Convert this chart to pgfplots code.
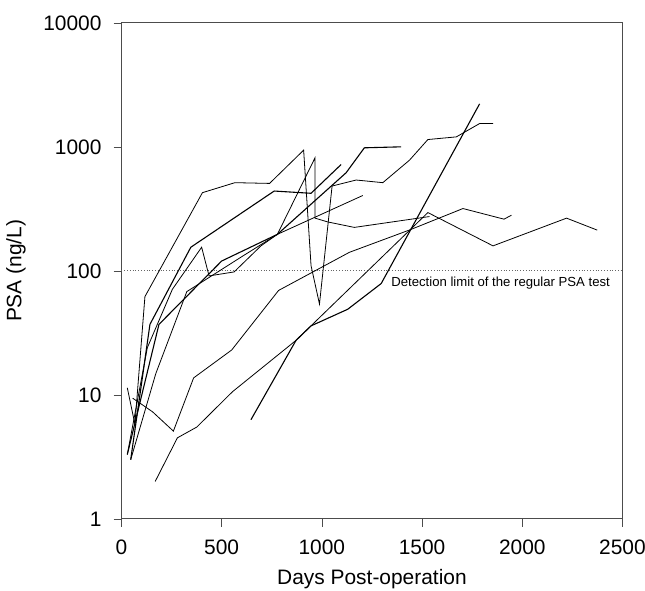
\documentclass[border=0pt]{standalone}
\usepackage{pgfplots}
\pgfplotsset{compat=1.18}
\usepackage{fontspec}
\setmainfont{Liberation Sans}

\begin{document}
\begin{tikzpicture}
\begin{axis}[
  scale only axis, width=251.5pt, height=249pt,
  xmin=0, xmax=2500, ymin=1, ymax=10000, ymode=log,
  xtick={0,500,...,2500}, ytick={1,10,100,1000,10000},
  yticklabels={1,10,100,1000,10000}, yminorticks=false,
  tick align=outside, xtick pos=left, ytick pos=left,
  major tick length=4pt,
  /pgf/number format/assume math mode=true,
  /pgf/number format/1000 sep={},
  tick label style={font=\fontsize{10.5}{12}\selectfont},
  xticklabel style={yshift=-3pt},
  yticklabel style={xshift=-2.5pt},
  label style={font=\fontsize{10.5}{12}\selectfont},
  xlabel={Days Post-operation}, ylabel={PSA (ng/L)},
  xlabel style={yshift=-0.5pt},
  ylabel style={yshift=2pt},
  cycle list={{black, line width=0.55pt, mark=none}},
  axis line style={line width=0.5pt, black!70},
  tick style={black!70},
  clip=false]
\addplot[densely dotted, thin, black!60, forget plot] coordinates {(0,100) (2500,100)};
% patients
\addplot coordinates {(29,11.4) (67,5.8) (117,62) (404,427) (566,514) (739,507) (909,940) (946,110) (988,54) (1051,483) (1171,540) (1304,514) (1437,780) (1529,1145) (1671,1203) (1787,1540) (1854,1540)};
\addplot coordinates {(46,3.0) (142,37) (346,155) (762,440) (946,422) (1096,720)};
\addplot coordinates {(56,9.4) (155,7.3) (259,5.1) (360,13.7) (550,23) (784,69.5) (1137,141) (1439,214) (1704,318) (1909,261) (1946,281)};
\addplot coordinates {(168,2.0) (279,4.5) (376,5.5) (554,10.6) (713,17.1) (871,27.5) (1529,295) (1854,159) (2221,266) (2374,213)};
\addplot coordinates {(646,6.3) (871,27.5) (946,36) (1129,49) (1296,79) (1787,2220)};
\addplot coordinates {(29,3.3) (129,24) (254,71) (400,155) (437,91) (562,98) (696,159) (778,197) (966,817) (966,266) (1029,248) (1162,224) (1537,274)};
\addplot coordinates {(46,3.0) (171,14.8) (326,68) (600,130) (778,197) (1104,342) (1204,405)};
\addplot coordinates {(29,3.3) (187,37) (500,120) (778,197) (1121,618) (1212,982) (1396,1000)};
\node[anchor=west, font=\fontsize{6.6}{8}\selectfont, inner sep=1pt] at (axis cs:1335,80) {Detection limit of the regular PSA test};
\coordinate (bl) at (rel axis cs:-0.2425,-0.145);
\coordinate (tr) at (rel axis cs:1.045,1.046);
\end{axis}
\pgfresetboundingbox
\useasboundingbox (bl) rectangle (tr);
\end{tikzpicture}
\end{document}
